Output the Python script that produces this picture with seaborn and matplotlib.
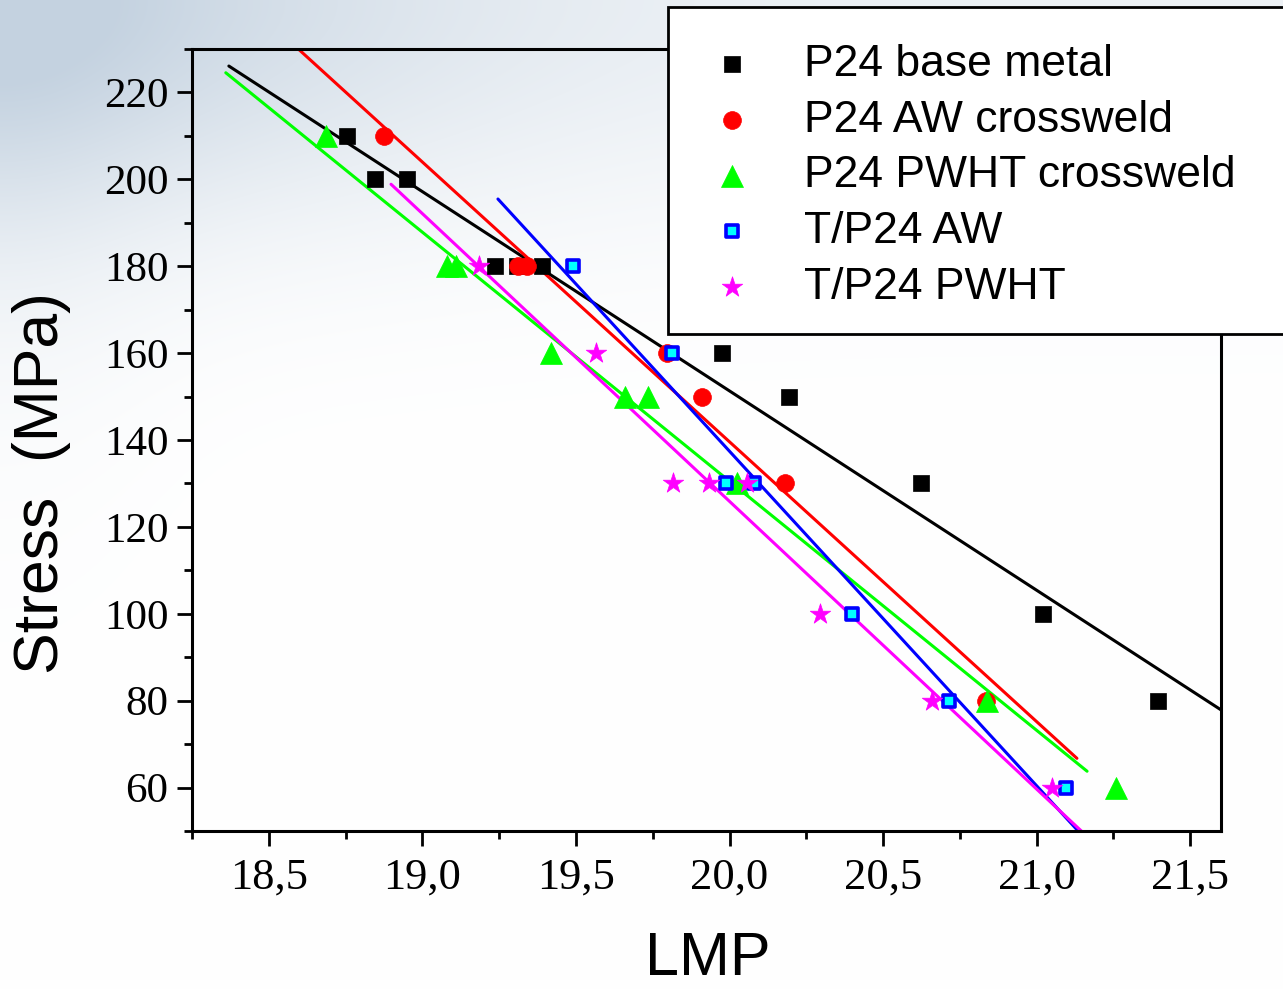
import numpy as np
import pandas as pd
import matplotlib
matplotlib.use("Agg")
import matplotlib.pyplot as plt
import seaborn as sns
from matplotlib.patches import Rectangle
from matplotlib.ticker import MultipleLocator, FixedLocator, FuncFormatter

# ---- creep rupture data: Larson-Miller parameter vs. stress ----
# P24 base metal
base_lmp = [18.755, 18.846, 18.95, 19.236, 19.308, 19.39, 19.976, 20.194, 20.624, 21.02, 21.395]
base_stress = [210, 200, 200, 180, 180, 180, 160, 150, 130, 100, 80]
# P24 AW crossweld
aw_cw_lmp = [18.876, 19.31, 19.34, 19.795, 19.91, 20.18, 20.835]
aw_cw_stress = [210, 180, 180, 160, 150, 130, 80]
# P24 PWHT crossweld
pwht_cw_lmp = [18.685, 19.08, 19.11, 19.42, 19.66, 19.736, 20.024, 20.838, 21.258]
pwht_cw_stress = [210, 180, 180, 160, 150, 150, 130, 80, 60]
# T/P24 AW
tp_aw_lmp = [19.49, 19.814, 19.988, 20.08, 20.40, 20.716, 21.094]
tp_aw_stress = [180, 160, 130, 130, 100, 80, 60]
# T/P24 PWHT
tp_pwht_lmp = [19.183, 19.566, 19.817, 19.934, 20.056, 20.295, 20.658, 21.049]
tp_pwht_stress = [180, 160, 130, 130, 130, 100, 80, 60]

series_names = ["P24 base metal", "P24 AW crossweld", "P24 PWHT crossweld",
                "T/P24 AW", "T/P24 PWHT"]
series_lmp = [base_lmp, aw_cw_lmp, pwht_cw_lmp, tp_aw_lmp, tp_pwht_lmp]
series_stress = [base_stress, aw_cw_stress, pwht_cw_stress, tp_aw_stress, tp_pwht_stress]

# LMP interval over which each linear fit is drawn
fit_from = [18.37, 18.40, 18.36, 19.246, 18.898]
fit_to = [21.70, 21.131, 21.164, 21.25, 21.25]

x_ticks = [18.5, 19.0, 19.5, 20.0, 20.5, 21.0, 21.5]
y_ticks = [60, 80, 100, 120, 140, 160, 180, 200, 220]

# ---- styling ----
sns.set_theme(style="white")
plt.rcParams["font.family"] = ["Liberation Sans", "DejaVu Sans"]

line_colors = ["#000000", "#ff0000", "#00ff00", "#0000ff", "#ff00ff"]
face_colors = ["#000000", "#ff0000", "#00ff00", "#00ffff", "#ff00ff"]
edge_colors = ["#000000", "#ff0000", "#00ff00", "#0000ff", "#ff00ff"]
markers = ["s", "o", "^", "s", "*"]
marker_area = [130, 165, 250, 80, 240]
marker_lw = [0.5, 0.5, 0.5, 2.6, 0.5]

W, H = 1283, 989
fig = plt.figure(figsize=(W / 100, H / 100), dpi=100)

# soft slide-style backdrop, bluish in the upper left
bg = fig.add_axes([0, 0, 1, 1], zorder=-10)
yy, xx = np.mgrid[0:H, 0:W]
w = np.exp(-(yy / 220.0) ** 2) * (0.3 + 0.6 * np.exp(-(xx / 450.0) ** 2))
w += 0.22 * np.exp(-((xx / 160.0) ** 2 + (yy / 400.0) ** 2))
w = np.clip(w, 0, 1)[..., None]
base_col = np.array([196, 210, 224]) / 255.0
img = 1.0 - w * (1.0 - base_col)
bg.imshow(img, aspect="auto", extent=[0, 1, 0, 1], origin="upper")
bg.set_axis_off()

ax = fig.add_axes([192 / W, 1 - 831 / H, (1221 - 192) / W, (831 - 49) / H])
ax.patch.set_alpha(0.0)

# linear fits (stress on LMP) drawn first, markers on top
for i in range(len(series_names)):
    slope, icpt = np.polyfit(series_lmp[i], series_stress[i], 1)
    xs = np.array([fit_from[i], fit_to[i]])
    sns.lineplot(x=xs, y=slope * xs + icpt, ax=ax, color=line_colors[i],
                 linewidth=2.2, legend=False, zorder=2)

for i, name in enumerate(series_names):
    df = pd.DataFrame({"LMP": series_lmp[i], "Stress": series_stress[i]})
    sns.scatterplot(data=df, x="LMP", y="Stress", ax=ax, marker=markers[i],
                    s=marker_area[i], color=face_colors[i],
                    edgecolor=edge_colors[i], linewidth=marker_lw[i],
                    label=name, zorder=3 + i, legend=False)

ax.set_xlim(18.25, 21.6)
ax.set_ylim(50, 230)
ax.xaxis.set_major_locator(FixedLocator(x_ticks))
ax.xaxis.set_minor_locator(MultipleLocator(0.25))
ax.yaxis.set_major_locator(FixedLocator(y_ticks))
ax.yaxis.set_minor_locator(MultipleLocator(10))
ax.xaxis.set_major_formatter(FuncFormatter(lambda v, p: f"{v:.1f}".replace(".", ",")))
ax.yaxis.set_major_formatter(FuncFormatter(lambda v, p: f"{v:.0f}"))

ax.tick_params(which="both", direction="out", top=False, right=False,
               width=2.0, color="black", bottom=True, left=True)
ax.tick_params(which="major", length=11)
ax.tick_params(which="minor", length=6)
ax.tick_params(axis="y", which="major", pad=6)
ax.tick_params(axis="x", which="major", pad=8)
for lab in ax.get_xticklabels():
    lab.set_fontfamily(["Liberation Serif", "DejaVu Serif"])
    lab.set_fontsize(32)
    lab.set_color("black")
for lab in ax.get_yticklabels():
    lab.set_fontfamily(["Liberation Serif", "DejaVu Serif"])
    lab.set_fontsize(31)
    lab.set_color("black")
for sp in ax.spines.values():
    sp.set_visible(True)
    sp.set_color("black")
    sp.set_linewidth(2.2)
ax.set_xlabel("")
ax.set_ylabel("")
ax.grid(False)

fig.text(708 / W, 0.0008, "LMP", ha="center", va="bottom", fontsize=44, color="black")
fig.text(42 / W, 1 - 483 / H, "Stress  (MPa)", rotation=90, ha="center", va="center",
         fontsize=45, color="black")

# legend box running off the right edge
frame = Rectangle((668 / W, 1 - 334 / H), (W + 20 - 668) / W, (334 - 7) / H,
                  transform=fig.transFigure, facecolor="white", edgecolor="black",
                  linewidth=2.0, zorder=20, clip_on=False)
fig.patches.append(frame)

handles, labels = ax.get_legend_handles_labels()
leg = fig.legend(handles, labels, loc="upper left",
                 bbox_to_anchor=(709.5 / W, 1 - 44 / H), bbox_transform=fig.transFigure,
                 frameon=False, fontsize=32, handlelength=1.0, handletextpad=1.12,
                 labelspacing=0.33, borderpad=0, borderaxespad=0)
leg.set_zorder(30)
for t in leg.get_texts():
    t.set_color("black")

fig.savefig("out.png", dpi=100)
